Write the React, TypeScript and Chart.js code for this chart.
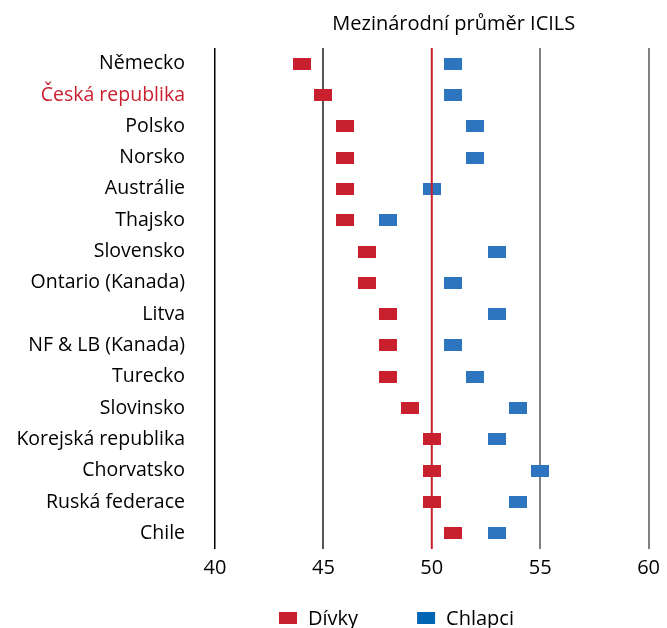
import React, { useEffect, useRef } from "react";
import { Chart, registerables } from "chart.js";

Chart.register(...registerables);

const categories = [
  "Německo",
  "Česká republika",
  "Polsko",
  "Norsko",
  "Austrálie",
  "Thajsko",
  "Slovensko",
  "Ontario (Kanada)",
  "Litva",
  "NF & LB (Kanada)",
  "Turecko",
  "Slovinsko",
  "Korejská republika",
  "Chorvatsko",
  "Ruská federace",
  "Chile",
];

const girls = [44, 45, 46, 46, 46, 46, 47, 47, 48, 48, 48, 49, 50, 50, 50, 51];
const boys = [51, 51, 52, 52, 50, 48, 53, 51, 53, 51, 52, 54, 53, 55, 54, 53];

const seriesNames = ["Dívky", "Chlapci"];
const xTicks = [40, 45, 50, 55, 60];
const meanValue = 50;
const meanLabel = "Mezinárodní průměr ICILS";
const highlighted = "Česká republika";

const RED = "#C8202F";
const BLUE = "#2E75BF";
const LEGEND_BLUE = "#0066B3";
const FONT = "'Open Sans', sans-serif";

function makeMarker(color: string): HTMLCanvasElement {
  const c = document.createElement("canvas");
  c.width = 18;
  c.height = 12;
  const g = c.getContext("2d")!;
  g.fillStyle = color;
  g.fillRect(0, 0, 18, 12);
  return c;
}

const overlayPlugin = {
  id: "overlay",
  afterDatasetsDraw(chart: any) {
    const { ctx, chartArea, scales } = chart;
    const x = scales.x.getPixelForValue(meanValue);
    ctx.save();
    ctx.strokeStyle = RED;
    ctx.lineWidth = 2;
    ctx.beginPath();
    ctx.moveTo(x, chartArea.top);
    ctx.lineTo(x, chartArea.bottom);
    ctx.stroke();
    ctx.restore();
  },
  afterDraw(chart: any) {
    const { ctx, scales } = chart;
    const x = scales.x.getPixelForValue(meanValue);
    ctx.save();
    ctx.fillStyle = "#000";
    ctx.font = `20px ${FONT}`;
    ctx.textAlign = "center";
    ctx.textBaseline = "middle";
    ctx.fillText(meanLabel, x + 22, 24);

    // legend
    const colors = [RED, LEGEND_BLUE];
    ctx.font = `20px ${FONT}`;
    ctx.textAlign = "left";
    let lx = 279;
    const ly = 618;
    seriesNames.forEach((name, i) => {
      ctx.fillStyle = colors[i];
      ctx.fillRect(lx, ly - 6, 18, 12);
      ctx.fillStyle = "#000";
      ctx.fillText(name, lx + 29, ly + 1);
      lx += 29 + ctx.measureText(name).width + 59;
    });
    ctx.restore();
  },
};

export default function App() {
  const ref = useRef<HTMLCanvasElement>(null);
  useEffect(() => {
    document.body.style.margin = "0";
    document.body.style.overflow = "hidden";
    const redMarker = makeMarker(RED);
    const blueMarker = makeMarker(BLUE);
    const chart = new Chart(ref.current!, {
      type: "line",
      data: {
        labels: categories,
        datasets: [
          {
            label: seriesNames[0],
            data: girls,
            showLine: false,
            pointStyle: redMarker as any,
            backgroundColor: RED,
            borderColor: RED,
          },
          {
            label: seriesNames[1],
            data: boys,
            showLine: false,
            pointStyle: blueMarker as any,
            backgroundColor: BLUE,
            borderColor: BLUE,
          },
        ],
      },
      options: {
        indexAxis: "y",
        animation: false,
        responsive: false,
        layout: { padding: { top: 48, right: 16, bottom: 39, left: 0 } },
        plugins: {
          legend: { display: false },
          tooltip: { enabled: false },
          title: { display: false },
        },
        scales: {
          x: {
            type: "linear",
            min: xTicks[0],
            max: xTicks[xTicks.length - 1],
            afterBuildTicks: (s: any) => {
              s.ticks = xTicks.map((v) => ({ value: v }));
            },
            afterFit: (s: any) => {
              s.height = 40;
            },
            border: { display: false },
            grid: {
              drawTicks: false,
              lineWidth: (c: any) => (c.tick && c.tick.value === 40 ? 1.5 : 2),
              color: (c: any) => {
                const v = c.tick && c.tick.value;
                if (v === 40) return "#000000";
                if (v === 45) return "#555555";
                if (v === meanValue) return "rgba(0,0,0,0)";
                return "#808080";
              },
            },
            ticks: {
              padding: 7,
              color: "#000",
              font: { family: FONT, size: 20 },
            },
          },
          y: {
            type: "category",
            offset: true,
            afterFit: (s: any) => {
              s.width = 215;
            },
            border: { display: false },
            grid: { display: false, drawTicks: false, offset: true },
            ticks: {
              padding: 30,
              autoSkip: false,
              color: (c: any) =>
                categories[c.index] === highlighted ? RED : "#000",
              font: { family: FONT, size: 19.5 },
            },
          },
        },
      },
      plugins: [overlayPlugin],
    });
    return () => chart.destroy();
  }, []);
  return (
    <div style={{ width: 667, height: 628 }}>
      <canvas ref={ref} width={667} height={628} />
    </div>
  );
}
